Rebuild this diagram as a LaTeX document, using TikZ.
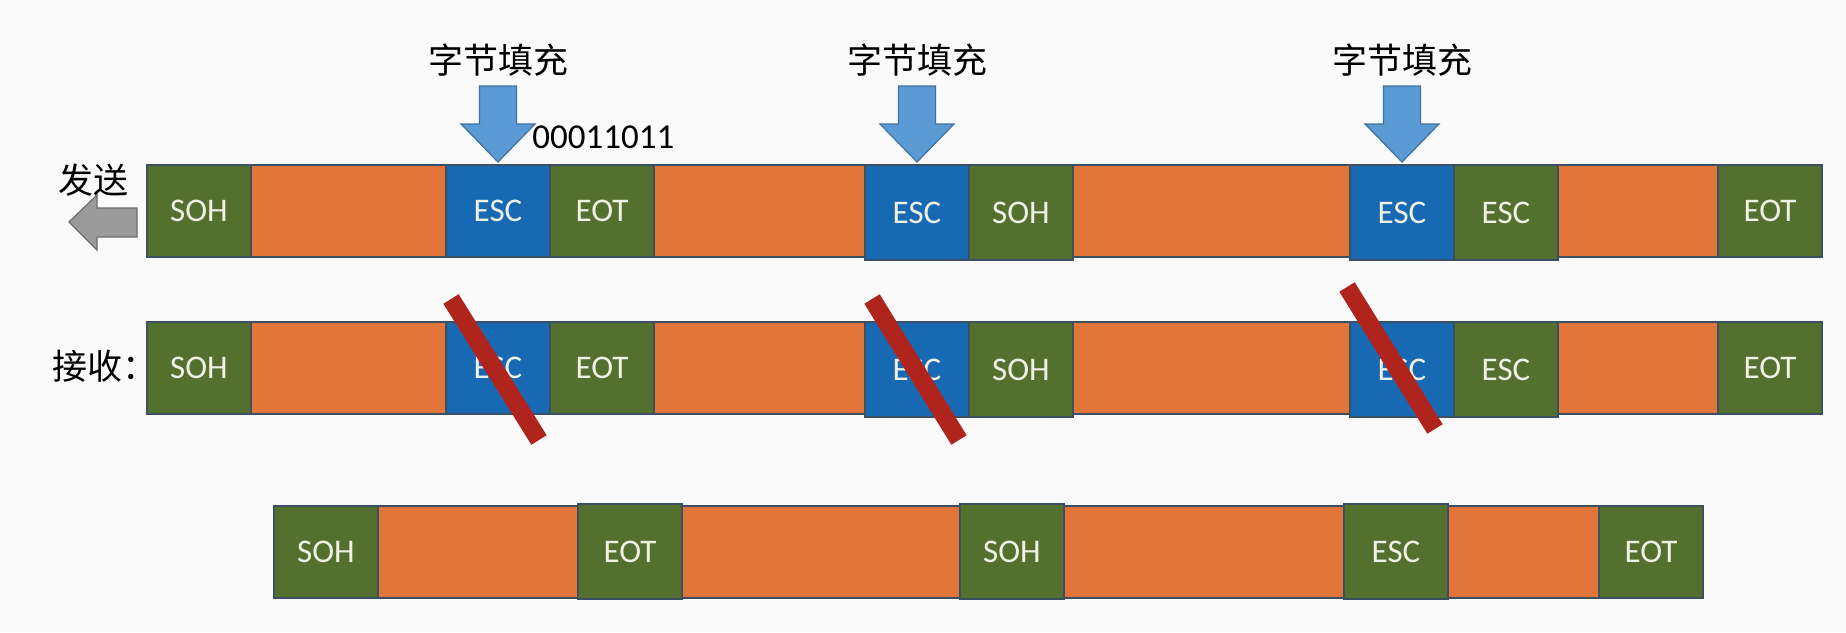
\documentclass[tikz,border=0pt]{standalone}
\usepackage{fontspec}
\setmainfont{Carlito}
\newfontfamily\cjk{Noto Sans CJK SC}
\usepackage{tikz}
\usetikzlibrary{calc, positioning}
\definecolor{grn}{RGB}{84, 112, 46}
\definecolor{orng}{RGB}{226, 117, 57}
\definecolor{blu}{RGB}{24, 105, 180}
\definecolor{edge}{RGB}{60, 80, 100}
\definecolor{arrowblu}{RGB}{91, 155, 213}
\definecolor{arrowedge}{RGB}{65, 113, 156}
\definecolor{gra}{RGB}{155, 155, 155}
\definecolor{crossred}{RGB}{176, 36, 30}
\definecolor{bg}{RGB}{250, 250, 250}
\definecolor{lbl}{RGB}{238, 242, 228}
\tikzset{
    fieldnode/.style = {draw=edge, line width=0.6pt, rectangle, anchor=north west, inner sep=0pt, 
      outer sep=0pt, minimum height=46pt, text=lbl, font=\fontsize{16.5}{19}\selectfont},
    tagnode/.style = {fieldnode, fill=grn, minimum width=52pt},
    escnode/.style = {fieldnode, fill=blu, minimum width=52pt},
    datanode/.style = {fieldnode, fill=orng, minimum width=#1*0.5pt},
    tall/.style = {minimum height=47.5pt},
    textnode/.style = {draw=none, fill=none, rectangle, inner sep=0pt, font=\cjk\fontsize{17.5}{20}\selectfont},
    bitsnode/.style = {draw=none, fill=none, rectangle, inner sep=0pt, font=\fontsize{17.5}{20}\selectfont},
    cross/.style = {crossred, line width=9pt},
    stuffarrow/.pic = {
      \filldraw [fill=arrowblu, draw=arrowedge, line width=0.6pt] (0,0) -- (-37,-38) -- (-18.5,-38) 
        -- (-18.5,-76) -- (18.5,-76) -- (18.5,-38) -- (37,-38) -- cycle;
    }
}

\begin{document}
\begin{tikzpicture}[x=0.5pt, y=-0.5pt]
    \useasboundingbox (0,0) rectangle (1846,632);
    \fill [bg] (0,0) rectangle (1846,632);

    % sent frame
    \node [name=s1, tagnode] at (147,165) {SOH};
    \node [name=s2, datanode=195] at (s1.north east) {};
    \node [name=s3, escnode] at (s2.north east) {ESC};
    \node [name=s4, tagnode] at (s3.north east) {EOT};
    \node [name=s5, datanode=211] at (s4.north east) {};
    \node [name=s6, escnode, tall] at (s5.north east) {ESC};
    \node [name=s7, tagnode, tall] at (s6.north east) {SOH};
    \node [name=s8, datanode=277] at (s7.north east) {};
    \node [name=s9, escnode, tall] at (s8.north east) {ESC};
    \node [name=s10, tagnode, tall] at (s9.north east) {ESC};
    \node [name=s11, datanode=160] at (s10.north east) {};
    \node [name=s12, tagnode] at (s11.north east) {EOT};

    % received frame
    \node [name=r1, tagnode] at (147,322) {SOH};
    \node [name=r2, datanode=195] at (r1.north east) {};
    \node [name=r3, escnode] at (r2.north east) {ESC};
    \node [name=r4, tagnode] at (r3.north east) {EOT};
    \node [name=r5, datanode=211] at (r4.north east) {};
    \node [name=r6, escnode, tall] at (r5.north east) {ESC};
    \node [name=r7, tagnode, tall] at (r6.north east) {SOH};
    \node [name=r8, datanode=277] at (r7.north east) {};
    \node [name=r9, escnode, tall] at (r8.north east) {ESC};
    \node [name=r10, tagnode, tall] at (r9.north east) {ESC};
    \node [name=r11, datanode=160] at (r10.north east) {};
    \node [name=r12, tagnode] at (r11.north east) {EOT};

    % data after removal
    \node [name=o1, tagnode] at (274,506) {SOH};
    \node [name=o2, datanode=200] at (o1.north east) {};
    \node [name=o3, tagnode, tall, yshift=1pt] at (o2.north east) {EOT};
    \node [name=o4, datanode=278] at (o3.north east |- o2.north) {};
    \node [name=o5, tagnode, tall, yshift=1pt] at (o4.north east) {SOH};
    \node [name=o6, datanode=280] at (o5.north east |- o4.north) {};
    \node [name=o7, tagnode, tall, yshift=1pt] at (o6.north east) {ESC};
    \node [name=o8, datanode=151] at (o7.north east |- o6.north) {};
    \node [name=o9, tagnode] at (o8.north east) {EOT};

    \pic at ([yshift=1.5pt]s3.north) {stuffarrow};
    \pic at ([yshift=1.5pt]s6.north) {stuffarrow};
    \pic at ([yshift=1.5pt]s9.north) {stuffarrow};
    \node [name=stuff1, textnode] at ($(s3.north)+(0,-105)$) {字节填充};
    \node [name=stuff2, textnode] at ($(s6.north)+(0,-105)$) {字节填充};
    \node [name=stuff3, textnode] at ($(s9.north)+(0,-105)$) {字节填充};
    \node [name=bits, bitsnode, anchor=west] at ($(s3.north east)+(-18,-28)$) {00011011};

    \node [name=send, textnode] at (93,180) {发送};
    \filldraw [fill=gra, draw=gra!70!black, line width=0.6pt] (69,222) -- (97,195) -- (97,208) 
        -- (137,208) -- (137,237) -- (97,237) -- (97,250) -- cycle;
    \node [name=recv, textnode, anchor=west] at (52,366) {接收：};

    \draw [cross] ($(r3.north west)+(5,-23)$) -- ++(88,141);
    \draw [cross] ($(r6.north west)+(7,-23)$) -- ++(87,141);
    \draw [cross] ($(r9.north west)+(-3,-35)$) -- ++(88,142);
\end{tikzpicture}
\end{document}
